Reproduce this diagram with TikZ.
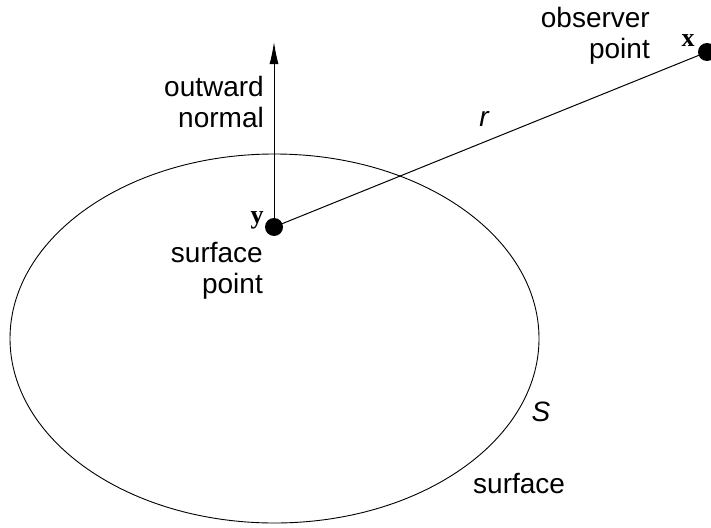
\documentclass[tikz,border=0pt]{standalone}
\usepackage{fontspec}
\setmainfont{Liberation Sans}
\newfontfamily\bserif{Liberation Serif}
\usetikzlibrary{arrows.meta}
\begin{document}
\begin{tikzpicture}[x=1pt,y=-1pt,
  lbl/.style={inner sep=0pt,font=\fontsize{28}{31}\selectfont,align=right},
  dotn/.style={circle,fill=black,inner sep=0pt,minimum size=18pt},
  bvar/.style={inner sep=0pt,font=\fontsize{26}{28}\bserif\bfseries},
  ivar/.style={inner sep=0pt,font=\fontsize{28}{31}\selectfont\itshape}]
\useasboundingbox (0,0) rectangle (711,527);
\draw[line width=0.9pt] (274.5,338.5) ellipse [x radius=264.5, y radius=184.5];
\node[dotn] (y) at (274,227) {};
\node[dotn] (x) at (707,52) {};
\coordinate (tip) at (274,42);
\draw[line width=1pt,-{Latex[length=22pt,width=9pt]}] (y.center) -- (tip);
\draw[line width=1pt] (y.center) -- (x.center);
\node[lbl,anchor=base east] (on) at (264,127) {outward\\normal};
\node[lbl,anchor=base east] (sp) at (263,293) {surface\\point};
\node[lbl,anchor=base east] (op) at (650,59) {observer\\point};
\node[bvar,anchor=base] (xl) at (688,46) {x};
\node[bvar,anchor=base] (yl) at (257,223) {y};
\node[ivar,anchor=base] (r) at (484,126) {r};
\node[ivar,anchor=base] (S) at (541,421) {S};
\node[lbl,anchor=base west] (sf) at (473,493) {surface};
\end{tikzpicture}
\end{document}
